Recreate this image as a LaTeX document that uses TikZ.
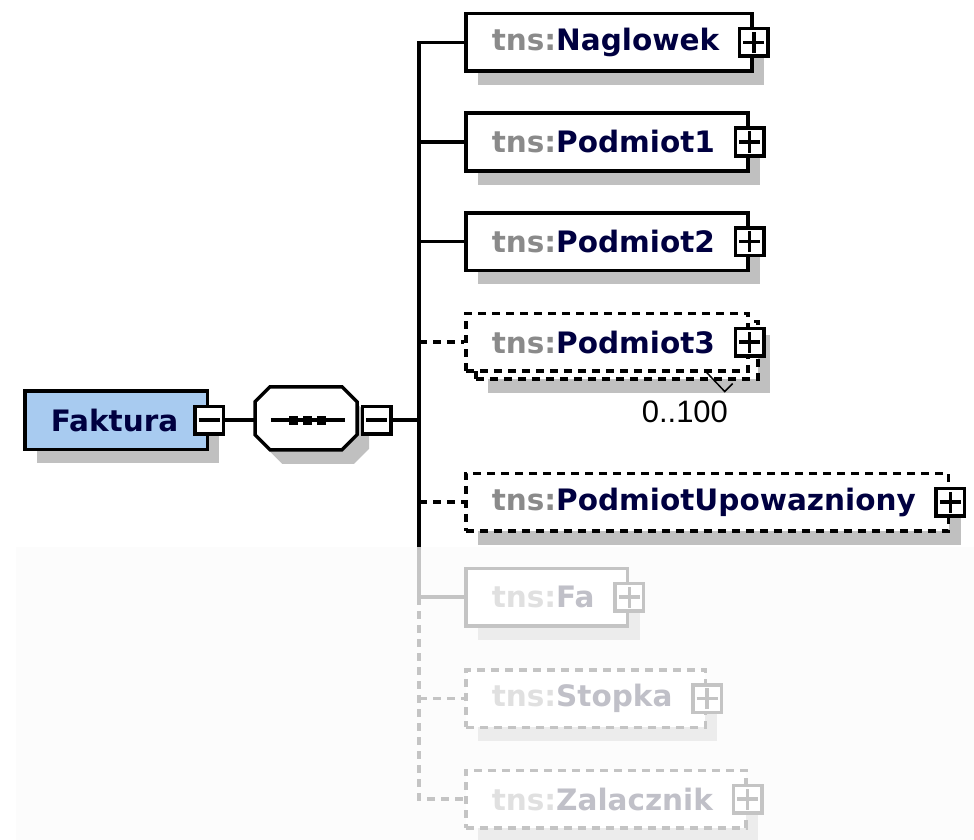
\documentclass[tikz,border=0pt]{standalone}
\usepackage{fontspec}
\usepackage{tikz}
\usetikzlibrary{positioning}
\usetikzlibrary{shadows,calc}
\newfontfamily\xsdfont{DejaVu Sans}
\newfontfamily\occfont{Liberation Sans}
\definecolor{tnsgrey}{HTML}{8A8A8A}
\definecolor{namenavy}{HTML}{000040}
\definecolor{rootblue}{HTML}{A8CBF0}
\definecolor{shadegrey}{HTML}{C0C0C0}
\definecolor{fadeline}{HTML}{C4C4C4}
\definecolor{fadeshade}{HTML}{ECECEC}
\definecolor{fadetns}{HTML}{E0E0E0}
\definecolor{fadename}{HTML}{C0C0C8}
\definecolor{fadebg}{HTML}{FCFCFC}
\newcommand{\elname}[1]{\textcolor{tnsgrey}{tns:}\textcolor{namenavy}{#1}\kern7pt}
\newcommand{\fadedname}[1]{\textcolor{fadetns}{tns:}\textcolor{fadename}{#1}\kern7pt}
\newcommand{\octapath}{++(15,0) -- ++(72,0) -- ++(15,15) -- ++(0,33) -- ++(-15,15) -- ++(-72,0) -- ++(-15,-15) -- ++(0,-33) -- cycle}
\begin{document}
\begin{tikzpicture}[x=1pt,y=-1pt,line width=3.5pt,
  box/.style={draw,fill=white,minimum height=57.5pt,inner xsep=26pt,inner ysep=0pt,anchor=west,
    font=\xsdfont\bfseries\fontsize{29.5pt}{34pt}\selectfont},
  boxshadow/.style={drop shadow={shadow xshift=12pt,shadow yshift=-14pt,fill=#1,opacity=1}},
  opt/.style={dash pattern=on 8pt off 6pt},
  faded/.style={draw=fadeline},
  plusbox/.style={draw=#1,fill=white,minimum width=28.5pt,minimum height=27.5pt,inner sep=0pt,
    path picture={\draw[#1,line width=3.5pt] ([xshift=-10.5pt]path picture bounding box.center) -- ([xshift=10.5pt]path picture bounding box.center);
      \draw[#1,line width=3.5pt] ([yshift=-10.5pt]path picture bounding box.center) -- ([yshift=10.5pt]path picture bounding box.center);}},
  plusbox/.default=black,
  minusbox/.style={draw,fill=white,minimum width=28.5pt,minimum height=27.5pt,inner sep=0pt,
    path picture={\draw[line width=3.5pt] ([xshift=-10.5pt]path picture bounding box.center) -- ([xshift=10.5pt]path picture bounding box.center);}},
  seqbox/.style={minimum width=102pt,minimum height=63pt,inner sep=0pt}]
\useasboundingbox (0,0) rectangle (974,840);
\path[fill=fadebg] (16,547) rectangle (974,840);
\coordinate (trk) at (419,0);
\coordinate (fade) at (0,547);
\path node[box,boxshadow=shadegrey,fill=rootblue,minimum height=58.5pt] (fak) at (23,420) {\textcolor{namenavy}{Faktura}\kern3pt};
\path node[minusbox] (fakm) at (fak.east) {};
\path node[seqbox,right =30pt of fakm] (seq) {};
\fill[shadegrey] ([shift={(12,14)}]seq.north west) \octapath;
\draw[fill=white] (seq.north west) \octapath;
\draw ([xshift=-37pt]seq.center) -- ([xshift=37pt]seq.center);
\foreach \d in {-14,0,14} \fill ([xshift=\d pt]seq.center) ++(-4.5pt,-4.5pt) rectangle ++(9pt,9pt);
\path node[minusbox,right =0pt of seq] (seqm) {};
\path (fakm) edge (seq);
\path node[box,boxshadow=shadegrey] (nag) at (464,42.5) {\elname{Naglowek}};
\path node[plusbox] (nagp) at (nag.east) {};
\path node[box,boxshadow=shadegrey] (pod1) at (464,142) {\elname{Podmiot1}};
\path node[plusbox] (pod1p) at (pod1.east) {};
\path node[box,boxshadow=shadegrey] (pod2) at (464,241.5) {\elname{Podmiot2}};
\path node[plusbox] (pod2p) at (pod2.east) {};
\path node[box,opt,boxshadow=shadegrey] (pod3b) at (474,350) {\phantom{\elname{Podmiot3}}};
\path node[box,opt] (pod3) at (464,342) {\elname{Podmiot3}};
\path node[plusbox] (pod3p) at (pod3.east) {};
\path node[anchor=north east,inner sep=0pt,font=\occfont\fontsize{31pt}{34pt}\selectfont] (pod3occ) at ([xshift=-30pt,yshift=-19pt]pod3b.south east) {0..100};
\draw[line width=1.5pt] ($(pod3b.south east)+(-53,-8)$) -- ++(18,19) -- ++(8,-8);
\path node[box,opt,boxshadow=shadegrey] (upow) at (464,502) {\elname{PodmiotUpowazniony}};
\path node[plusbox] (upowp) at (upow.east) {};
\path node[box,faded,boxshadow=fadeshade] (fa) at (464,597) {\fadedname{Fa}};
\path node[plusbox=fadeline] (fap) at (fa.east) {};
\path node[box,faded,opt,boxshadow=fadeshade] (stop) at (464,698.5) {\fadedname{Stopka}};
\path node[plusbox=fadeline] (stopp) at (stop.east) {};
\path node[box,faded,opt,boxshadow=fadeshade] (zal) at (464,799) {\fadedname{Zalacznik}};
\path node[plusbox=fadeline] (zalp) at (zal.east) {};
\draw (seqm.east) -- (seqm.east -| trk);
\draw (nag.west) -- (nag.west -| trk) -- (fade -| trk);
\draw (pod1.west -| trk) -- (pod1.west);
\draw (pod2.west -| trk) -- (pod2.west);
\draw[opt] (pod3.west -| trk) -- (pod3.west);
\draw[opt] (upow.west -| trk) -- (upow.west);
\draw[fadeline] (fade -| trk) -- (fa.west -| trk) -- (fa.west);
\draw[fadeline,opt] (fa.west -| trk) -- (zal.west -| trk) -- (zal.west);
\draw[fadeline,opt] (stop.west -| trk) -- (stop.west);
\end{tikzpicture}
\end{document}
